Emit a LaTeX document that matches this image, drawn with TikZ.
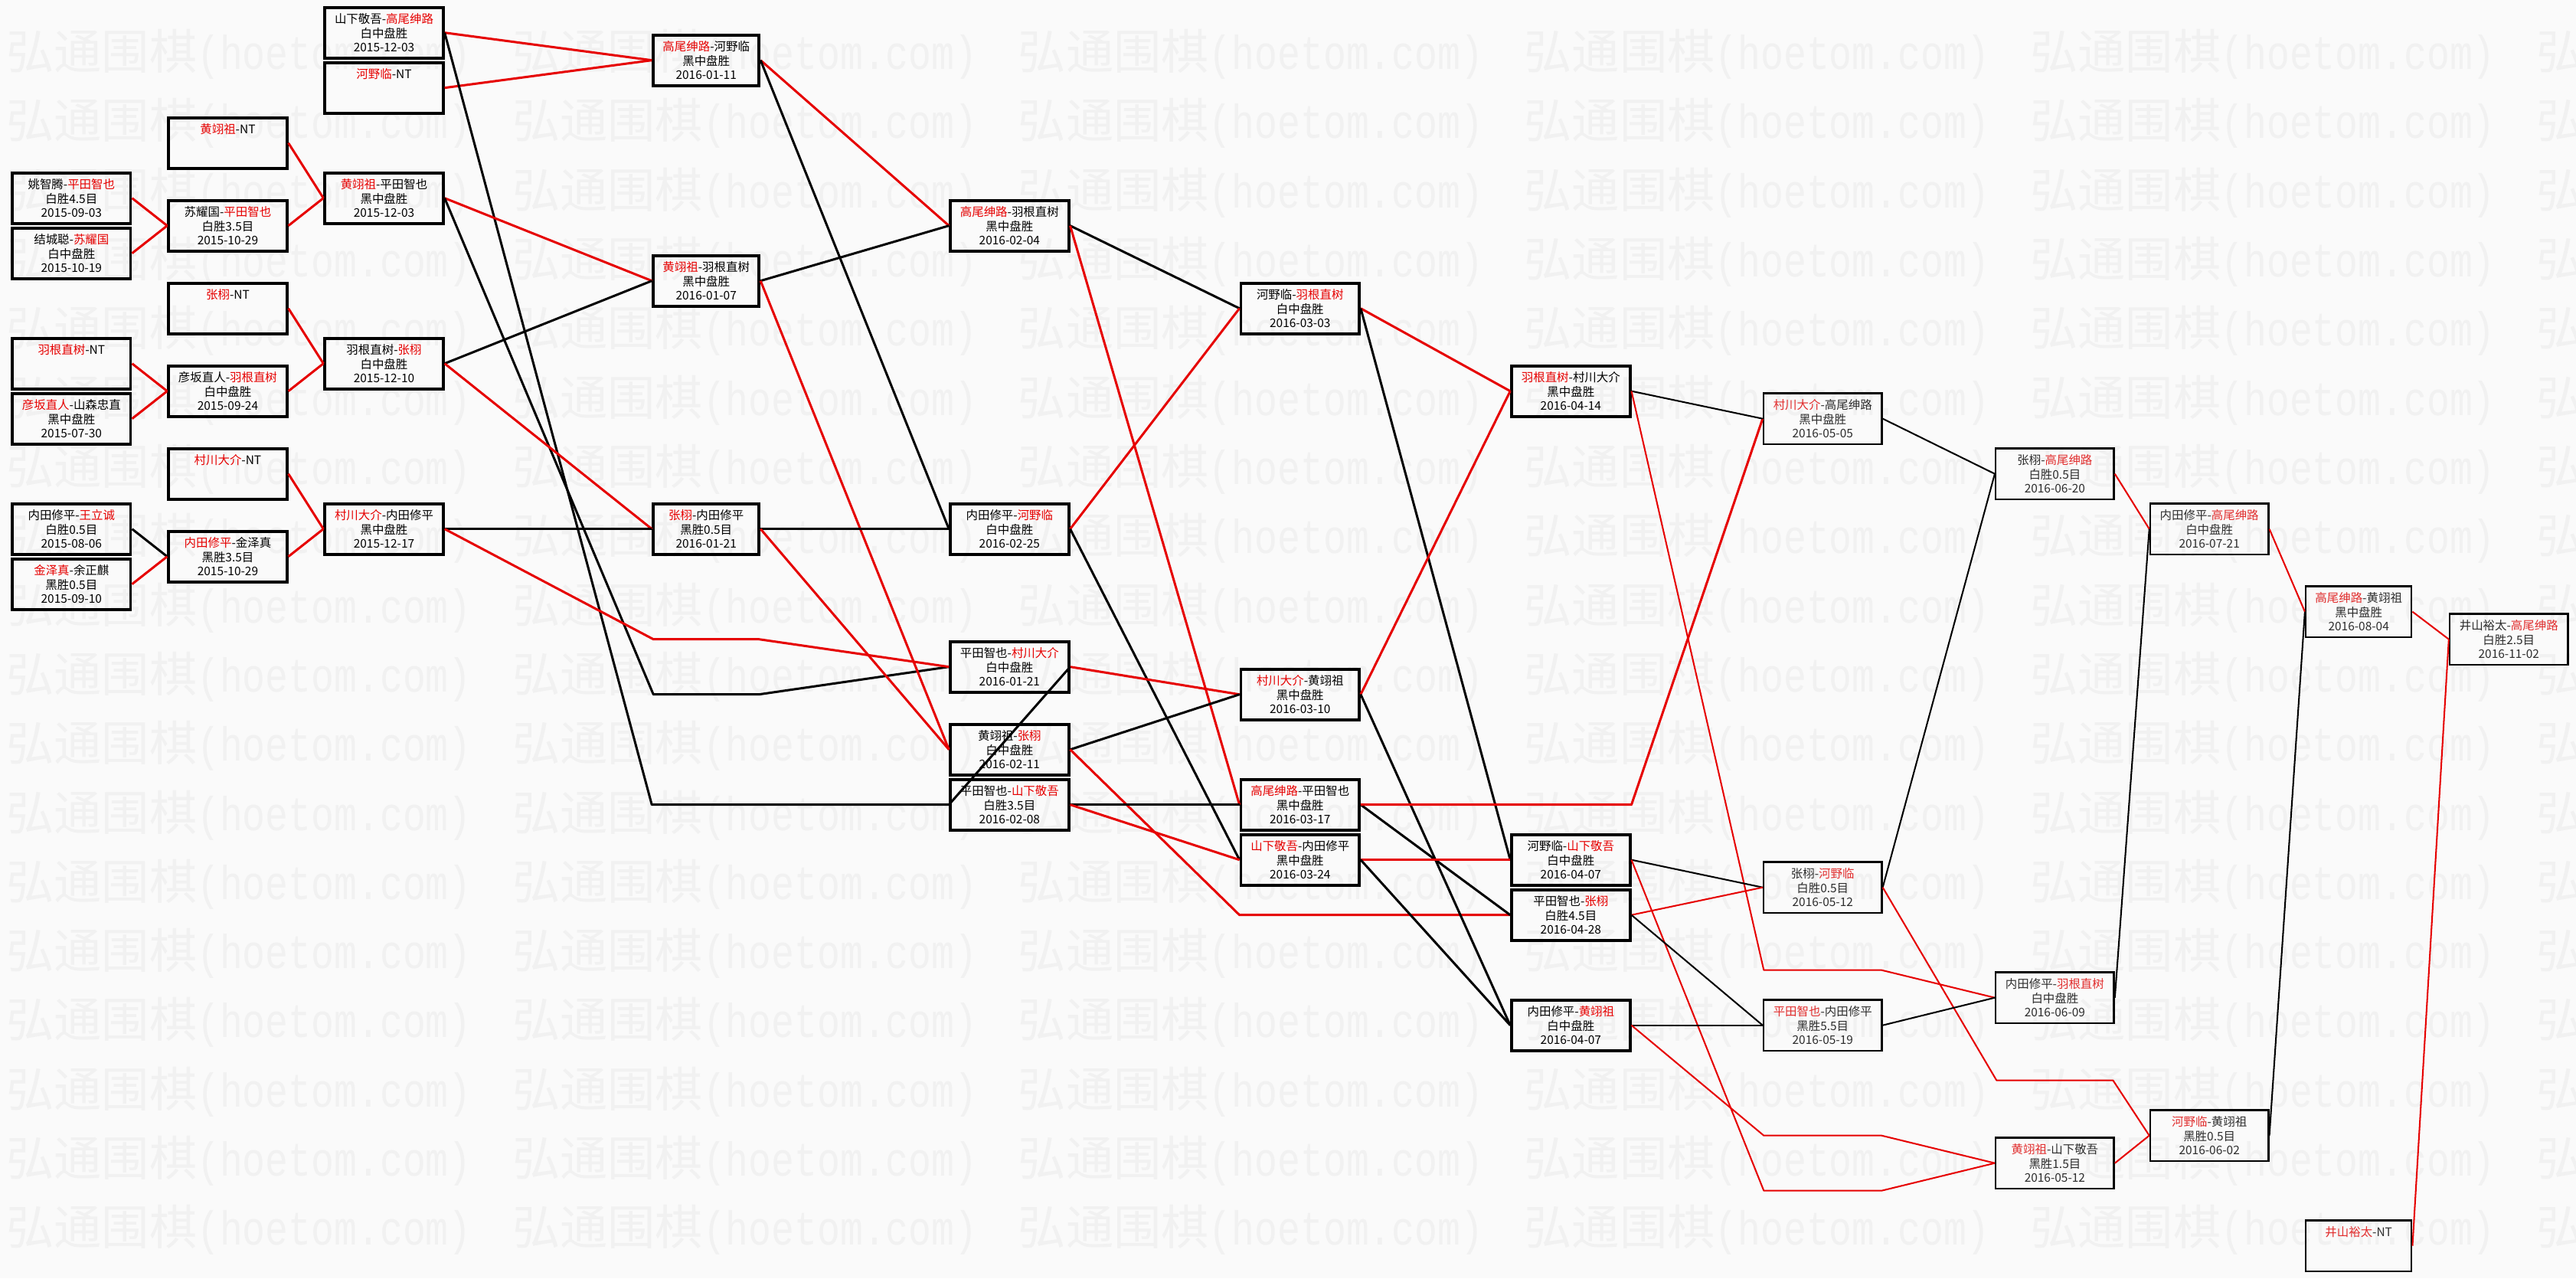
\documentclass[tikz,border=0pt]{standalone}
\usepackage{fontspec}
\usepackage{graphicx}
\newfontfamily\cjk{Noto Sans CJK SC}
\newfontfamily\wmmono{Liberation Mono}
\definecolor{wred}{RGB}{230,0,0}
\definecolor{lred}{RGB}{225,45,45}
\definecolor{lgray}{RGB}{45,45,45}
\definecolor{wmcol}{RGB}{241,241,241}
\definecolor{bgcol}{RGB}{250,250,250}
\newcommand{\redname}[1]{\textcolor{wred}{#1}}
\newcommand{\lredname}[1]{\textcolor{lred}{#1}}
\newcommand{\rowy}[1]{19.9+16.78*#1}
\tikzset{
  game/.style={draw=black, line width=1.8pt, rectangle, minimum width=72pt,
    minimum height=30.8pt, inner sep=0pt, align=center,
    font=\cjk\fontsize{7.2}{8.6}\selectfont, text=black},
  narrowbox/.style={minimum width=64.4pt},
  latebox/.style={line width=1.1pt, text=lgray},
  win/.style={draw=wred, line width=1.4pt, line join=round},
  lose/.style={draw=black, line width=1.4pt, line join=round},
  lateline/.style={line width=0.95pt},
  wmark/.style={inner sep=0pt, anchor=west, text=wmcol}
}
\begin{document}
\begin{tikzpicture}[x=1pt,y=-1pt]
\fill[bgcol] (0,0) rectangle (1568,778);
\useasboundingbox (0,0) rectangle (1568,778);
% watermark
\begin{scope}
\clip (0,0) rectangle (1568,778);
\foreach \r in {0,...,17} {
  \foreach \c in {0,...,5} {
    \node[wmark] (wm-\r-\c) at ({3.7+308*\c},{33+42.1*\r})
      {{\cjk\fontsize{29}{29}\selectfont 弘通围棋}{\wmmono\fontsize{29}{29}\selectfont\scalebox{0.8}[1]{(hoetom.com)}}};
  }
}
\end{scope}
% column 1
\node[game] (n1a) at (43.5,{\rowy{6}}) {姚智腾-\redname{平田智也}\\白胜4.5目\\2015-09-03};
\node[game] (n1b) at (43.5,{\rowy{8}}) {结城聪-\redname{苏耀国}\\白中盘胜\\2015-10-19};
\node[game] (n1c) at (43.5,{\rowy{12}}) {\redname{羽根直树}-NT\\~\\~};
\node[game] (n1d) at (43.5,{\rowy{14}}) {\redname{彦坂直人}-山森忠直\\黑中盘胜\\2015-07-30};
\node[game] (n1e) at (43.5,{\rowy{18}}) {内田修平-\redname{王立诚}\\白胜0.5目\\2015-08-06};
\node[game] (n1f) at (43.5,{\rowy{20}}) {\redname{金泽真}-余正麒\\黑胜0.5目\\2015-09-10};
% column 2
\node[game] (n2a) at (138.65,{\rowy{4}}) {\redname{黄翊祖}-NT\\~\\~};
\node[game] (n2b) at (138.65,{\rowy{7}}) {苏耀国-\redname{平田智也}\\白胜3.5目\\2015-10-29};
\node[game] (n2c) at (138.65,{\rowy{10}}) {\redname{张栩}-NT\\~\\~};
\node[game] (n2d) at (138.65,{\rowy{13}}) {彦坂直人-\redname{羽根直树}\\白中盘胜\\2015-09-24};
\node[game] (n2e) at (138.65,{\rowy{16}}) {\redname{村川大介}-NT\\~\\~};
\node[game] (n2f) at (138.65,{\rowy{19}}) {\redname{内田修平}-金泽真\\黑胜3.5目\\2015-10-29};
% column 3
\node[game] (n3a) at (233.75,{\rowy{0}}) {山下敬吾-\redname{高尾绅路}\\白中盘胜\\2015-12-03};
\node[game] (n3b) at (233.75,{\rowy{2}}) {\redname{河野临}-NT\\~\\~};
\node[game] (n3c) at (233.75,{\rowy{6}}) {\redname{黄翊祖}-平田智也\\黑中盘胜\\2015-12-03};
\node[game] (n3d) at (233.75,{\rowy{12}}) {羽根直树-\redname{张栩}\\白中盘胜\\2015-12-10};
\node[game] (n3e) at (233.75,{\rowy{18}}) {\redname{村川大介}-内田修平\\黑中盘胜\\2015-12-17};
% column 4
\node[game,narrowbox] (n4a) at (429.85,{\rowy{1}}) {\redname{高尾绅路}-河野临\\黑中盘胜\\2016-01-11};
\node[game,narrowbox] (n4b) at (429.85,{\rowy{9}}) {\redname{黄翊祖}-羽根直树\\黑中盘胜\\2016-01-07};
\node[game,narrowbox] (n4c) at (429.85,{\rowy{18}}) {\redname{张栩}-内田修平\\黑胜0.5目\\2016-01-21};
% column 5
\node[game] (n5a) at (614.5,{\rowy{7}}) {\redname{高尾绅路}-羽根直树\\黑中盘胜\\2016-02-04};
\node[game] (n5b) at (614.5,{\rowy{18}}) {内田修平-\redname{河野临}\\白中盘胜\\2016-02-25};
\node[game] (n5c) at (614.5,{\rowy{23}}) {平田智也-\redname{村川大介}\\白中盘胜\\2016-01-21};
\node[game] (n5d) at (614.5,{\rowy{26}}) {黄翊祖-\redname{张栩}\\白中盘胜\\2016-02-11};
\node[game] (n5e) at (614.5,{\rowy{28}}) {平田智也-\redname{山下敬吾}\\白胜3.5目\\2016-02-08};
% column 6
\node[game] (n6a) at (791.35,{\rowy{10}}) {河野临-\redname{羽根直树}\\白中盘胜\\2016-03-03};
\node[game] (n6b) at (791.35,{\rowy{24}}) {\redname{村川大介}-黄翊祖\\黑中盘胜\\2016-03-10};
\node[game] (n6c) at (791.35,{\rowy{28}}) {\redname{高尾绅路}-平田智也\\黑中盘胜\\2016-03-17};
\node[game] (n6d) at (791.35,{\rowy{30}}) {\redname{山下敬吾}-内田修平\\黑中盘胜\\2016-03-24};
% column 7
\node[game] (n7a) at (956.15,{\rowy{13}}) {\redname{羽根直树}-村川大介\\黑中盘胜\\2016-04-14};
\node[game] (n7b) at (956.15,{\rowy{30}}) {河野临-\redname{山下敬吾}\\白中盘胜\\2016-04-07};
\node[game] (n7c) at (956.15,{\rowy{32}}) {平田智也-\redname{张栩}\\白胜4.5目\\2016-04-28};
\node[game] (n7d) at (956.15,{\rowy{36}}) {内田修平-\redname{黄翊祖}\\白中盘胜\\2016-04-07};
% column 8
\node[game,latebox] (n8a) at (1109.45,{\rowy{14}}) {\lredname{村川大介}-高尾绅路\\黑中盘胜\\2016-05-05};
\node[game,latebox] (n8b) at (1109.45,{\rowy{31}}) {张栩-\lredname{河野临}\\白胜0.5目\\2016-05-12};
\node[game,latebox] (n8c) at (1109.45,{\rowy{36}}) {\lredname{平田智也}-内田修平\\黑胜5.5目\\2016-05-19};
% column 9
\node[game,latebox] (n9a) at (1250.75,{\rowy{16}}) {张栩-\lredname{高尾绅路}\\白胜0.5目\\2016-06-20};
\node[game,latebox] (n9b) at (1250.75,{\rowy{35}}) {内田修平-\lredname{羽根直树}\\白中盘胜\\2016-06-09};
\node[game,latebox] (n9c) at (1250.75,{\rowy{41}}) {\lredname{黄翊祖}-山下敬吾\\黑胜1.5目\\2016-05-12};
% column 10
\node[game,latebox] (n10a) at (1344.8,{\rowy{18}}) {内田修平-\lredname{高尾绅路}\\白中盘胜\\2016-07-21};
\node[game,latebox] (n10b) at (1344.8,{\rowy{40}}) {\lredname{河野临}-黄翊祖\\黑胜0.5目\\2016-06-02};
% column 11
\node[game,latebox,narrowbox] (n11a) at (1435.7,{\rowy{21}}) {\lredname{高尾绅路}-黄翊祖\\黑中盘胜\\2016-08-04};
\node[game,latebox,narrowbox] (n11b) at (1435.7,{\rowy{44}}) {\lredname{井山裕太}-NT\\~\\~};
% column 12
\node[game,latebox] (n12a) at (1527.1,{\rowy{22}}) {井山裕太-\lredname{高尾绅路}\\白胜2.5目\\2016-11-02};
% bend points
\coordinate (b17a) at (397.7,{\rowy{24}});
\coordinate (b17b) at (462,{\rowy{24}});
\coordinate (b21a) at (397.7,{\rowy{22}});
\coordinate (b21b) at (462,{\rowy{22}});
\coordinate (b47a) at (1073.6,{\rowy{34}});
\coordinate (b47b) at (1145.3,{\rowy{34}});
\coordinate (b49a) at (1073.6,{\rowy{42}});
\coordinate (b49b) at (1145.3,{\rowy{42}});
\coordinate (b53a) at (1073.6,{\rowy{40}});
\coordinate (b53b) at (1145.3,{\rowy{40}});
\coordinate (b56a) at (1215.3,{\rowy{38}});
\coordinate (b56b) at (1286.2,{\rowy{38}});
% edges columns 1-3
\draw[win] (n1a.east) -- (n2b.west);
\draw[win] (n1b.east) -- (n2b.west);
\draw[win] (n1c.east) -- (n2d.west);
\draw[win] (n1d.east) -- (n2d.west);
\draw[lose] (n1e.east) -- (n2f.west);
\draw[win] (n1f.east) -- (n2f.west);
\draw[win] (n2a.east) -- (n3c.west);
\draw[win] (n2b.east) -- (n3c.west);
\draw[win] (n2c.east) -- (n3d.west);
\draw[win] (n2d.east) -- (n3d.west);
\draw[win] (n2e.east) -- (n3e.west);
\draw[win] (n2f.east) -- (n3e.west);
\draw[win] (n3a.east) -- (n4a.west);
\draw[win] (n3b.east) -- (n4a.west);
\draw[lose] (n3a.east) -- (n4a.west |- n5e.west) -- (n5e.west);
\draw[win] (n3c.east) -- (n4b.west);
\draw[lose] (n3c.east) -- (b17a) -- (b17b) -- (n5c.west);
\draw[lose] (n3d.east) -- (n4b.west);
\draw[win] (n3d.east) -- (n4c.west);
\draw[lose] (n3e.east) -- (n4c.west);
\draw[win] (n3e.east) -- (b21a) -- (b21b) -- (n5c.west);
% columns 4-6
\draw[win] (n4a.east) -- (n5a.west);
\draw[lose] (n4a.east) -- (n5b.west);
\draw[lose] (n4b.east) -- (n5a.west);
\draw[win] (n4b.east) -- (n5d.west);
\draw[lose] (n4c.east) -- (n5b.west);
\draw[win] (n4c.east) -- (n5d.west);
\draw[lose] (n5a.east) -- (n6a.west);
\draw[win] (n5a.east) -- (n6c.west);
\draw[win] (n5b.east) -- (n6a.west);
\draw[lose] (n5b.east) -- (n6d.west);
\draw[win] (n5c.east) -- (n6b.west);
\draw[lose] (n5c.east) -- (n5e.west);
\draw[lose] (n5d.east) -- (n6b.west);
\draw[win] (n5d.east) -- (n6a.west |- n7c.west) -- (n7c.west);
\draw[lose] (n5e.east) -- (n6c.west);
\draw[win] (n5e.east) -- (n6d.west);
\draw[win] (n6a.east) -- (n7a.west);
\draw[lose] (n6a.east) -- (n7b.west);
\draw[win] (n6b.east) -- (n7a.west);
\draw[lose] (n6b.east) -- (n7d.west);
\draw[lose] (n6c.east) -- (n7c.west);
\draw[win] (n6c.east) -- (n7a.east |- n6c.east) -- (n8a.west);
\draw[win] (n6d.east) -- (n7b.west);
\draw[lose] (n6d.east) -- (n7d.west);
% later columns
\draw[lose,lateline] (n7a.east) -- (n8a.west);
\draw[win,lateline] (n7a.east) -- (b47a) -- (b47b) -- (n9b.west);
\draw[lose,lateline] (n7b.east) -- (n8b.west);
\draw[win,lateline] (n7b.east) -- (b49a) -- (b49b) -- (n9c.west);
\draw[win,lateline] (n7c.east) -- (n8b.west);
\draw[lose,lateline] (n7c.east) -- (n8c.west);
\draw[lose,lateline] (n7d.east) -- (n8c.west);
\draw[win,lateline] (n7d.east) -- (b53a) -- (b53b) -- (n9c.west);
\draw[lose,lateline] (n8a.east) -- (n9a.west);
\draw[lose,lateline] (n8b.east) -- (n9a.west);
\draw[win,lateline] (n8b.east) -- (b56a) -- (b56b) -- (n10b.west);
\draw[lose,lateline] (n8c.east) -- (n9b.west);
\draw[win,lateline] (n9a.east) -- (n10a.west);
\draw[lose,lateline] (n9b.east) -- (n10a.west);
\draw[win,lateline] (n9c.east) -- (n10b.west);
\draw[win,lateline] (n10a.east) -- (n11a.west);
\draw[lose,lateline] (n10b.east) -- (n11a.west);
\draw[win,lateline] (n11a.east) -- (n12a.west);
\draw[win,lateline] (n11b.east) -- (n12a.west);
\end{tikzpicture}
\end{document}
